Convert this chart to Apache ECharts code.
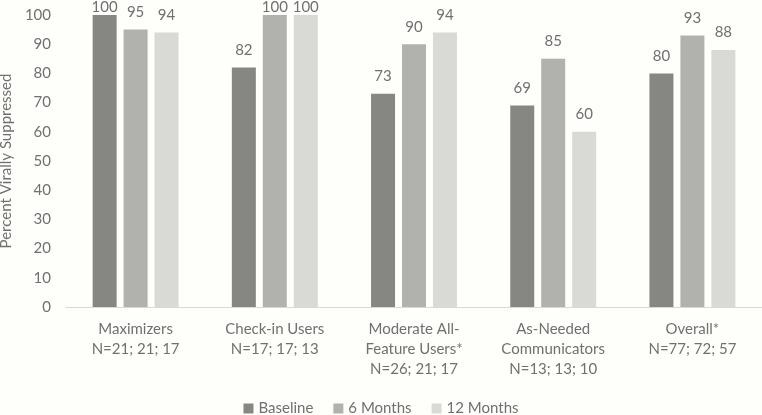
<!DOCTYPE html>
<html><head><meta charset="utf-8">
<script src="https://cdn.jsdelivr.net/npm/echarts@6/dist/echarts.min.js"></script>
<style>html,body{margin:0;padding:0;background:#fefefb}#c{width:762px;height:415px}</style>
</head><body><div id="c"></div>
<script>
const categories = ['Maximizers\nN=21; 21; 17','Check-in Users\nN=17; 17; 13','Moderate All-\nFeature Users*\nN=26; 21; 17','As-Needed\nCommunicators\nN=13; 13; 10','Overall*\nN=77; 72; 57'];
const baseline = [100, 82, 73, 69, 80];
const sixMonths = [95, 100, 90, 85, 93];
const twelveMonths = [94, 100, 94, 60, 88];
const seriesNames = ['Baseline','6 Months','12 Months'];
const colors = ['#868782','#b1b2ae','#d9dad6'];
const font = 'Lato, "Open Sans", sans-serif';
const txt = '#707070';
const chart = echarts.init(document.getElementById('c'));
const mk = (name, data, color) => ({
  name, type: 'bar', barWidth: 24, barGap: '29%',
  data: data.map(v => v >= 100 ? {value: v, label: {distance: 0}} : v),
  itemStyle: {color},
  label: {show: true, position: 'top', distance: 10, color: txt, fontSize: 15, fontFamily: font}
});
chart.setOption({
  animation: false,
  backgroundColor: '#fefefb',
  textStyle: {fontFamily: font},
  grid: {left: 66, right: 0, top: 15, bottom: 108, outerBoundsMode: 'none', containLabel: false},
  legend: {top: 396, itemWidth: 10, itemHeight: 10, itemGap: 20, icon: 'rect',
    textStyle: {color: txt, fontSize: 15, fontFamily: font}, data: seriesNames},
  xAxis: {type: 'category', data: categories,
    axisLine: {lineStyle: {color: '#d9d9d9'}}, axisTick: {show: false},
    axisLabel: {color: txt, fontSize: 15, lineHeight: 20, margin: 12, fontFamily: font, interval: 0}},
  yAxis: {type: 'value', min: 0, max: 100, interval: 10,
    name: 'Percent Virally Suppressed', nameLocation: 'middle', nameGap: 44,
    nameTextStyle: {color: txt, fontSize: 15, fontFamily: font},
    splitLine: {show: false}, axisLine: {show: false}, axisTick: {show: false},
    axisLabel: {color: txt, fontSize: 15, margin: 15, fontFamily: font}},
  series: [mk(seriesNames[0], baseline, colors[0]), mk(seriesNames[1], sixMonths, colors[1]), mk(seriesNames[2], twelveMonths, colors[2])]
});
</script></body></html>
